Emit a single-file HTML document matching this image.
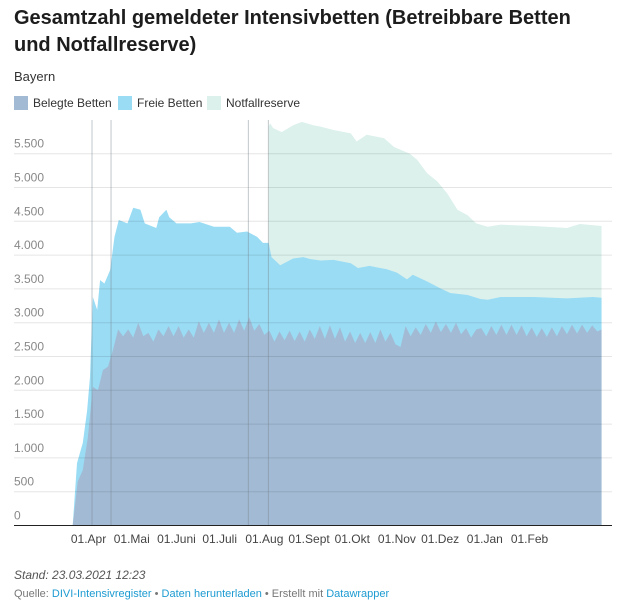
<!DOCTYPE html>
<html><head><meta charset="utf-8">
<style>
body{margin:0;background:#fff;font-family:"Liberation Sans",sans-serif;width:622px;height:606px;overflow:hidden;position:relative}
.t{position:absolute;left:14px;top:5px;font-size:20px;font-weight:bold;color:#1d1d1d;line-height:27px;width:610px;white-space:nowrap}
.sub{position:absolute;left:14px;top:69px;font-size:13px;color:#333}
.leg{position:absolute;top:96px;font-size:12px;color:#333;display:flex;align-items:center}
.leg span{display:inline-block;width:14px;height:14px;margin-right:5px}
.f1{position:absolute;left:14px;top:568px;font-size:12px;font-style:italic;color:#555}
.f2{position:absolute;left:14px;top:588px;font-size:11px;color:#777}
.f2 a{color:#1d9bd1;text-decoration:none}
svg{position:absolute;left:0;top:0}
</style></head><body>
<div class="t">Gesamtzahl gemeldeter Intensivbetten (Betreibbare Betten<br>und Notfallreserve)</div>
<div class="sub">Bayern</div>
<div class="leg" style="left:14px"><span style="background:#a2bad4"></span>Belegte Betten</div>
<div class="leg" style="left:118px"><span style="background:#9adcf4"></span>Freie Betten</div>
<div class="leg" style="left:207px"><span style="background:#dcf1ec"></span>Notfallreserve</div>
<svg id="chart" width="622" height="606"></svg>
<div class="f1">Stand: 23.03.2021 12:23</div>
<div class="f2">Quelle: <a>DIVI-Intensivregister</a> • <a>Daten herunterladen</a> • Erstellt mit <a>Datawrapper</a></div>
<script>
// days since 21.03.2020
const yTicks=[0,500,1000,1500,2000,2500,3000,3500,4000,4500,5000,5500];
const yTickLabels=["0","500","1.000","1.500","2.000","2.500","3.000","3.500","4.000","4.500","5.000","5.500"];
const xTickDays=[11,41,72,102,133,164,194,225,255,286,317];
const xTickLabels=["01.Apr","01.Mai","01.Juni","01.Juli","01.Aug","01.Sept","01.Okt","01.Nov","01.Dez","01.Jan","01.Feb"];
const eventDays=[13.4,26.6,121.9,135.8];
const belegt=[0,650,820,1300,2050,2000,2300,2350,2600,2900,2800,2900,2780,3000,2800,2850,2720,2900,2800,2950,2800,2950,2780,2900,2780,3020,2850,3000,2850,3050,2850,3000,2850,3050,2880,3080,2880,2980,2820,2880,2720,2870,2740,2880,2730,2870,2720,2900,2760,2950,2760,2960,2760,2930,2720,2870,2700,2850,2700,2860,2700,2900,2720,2850,2680,2640,2950,2800,2930,2820,2980,2850,3020,2860,2980,2850,3000,2830,2920,2780,2900,2920,2800,2950,2820,2970,2820,2970,2820,2960,2800,2930,2790,2920,2790,2930,2800,2950,2830,2970,2840,2970,2850,2960,2870,2900];
const freiDays=[0,3,7,10,12,14,17,19,22,26,29,32,38,42,47,50,58,60,65,67,72,82,88,98,109,114,121,128,132,136,138,144,153,160,165,172,181,193,198,206,218,225,232,236,246,255,262,274,283,288,297,320,343,361,367];
const freiTotal=[0,925,1220,1700,2200,3380,3190,3630,3580,3780,4270,4520,4470,4700,4670,4470,4400,4560,4670,4560,4470,4470,4490,4420,4420,4330,4350,4270,4180,4180,3970,3850,3950,3970,3940,3920,3930,3880,3810,3840,3790,3740,3640,3710,3610,3510,3440,3410,3350,3340,3380,3380,3360,3380,3370];
const notDays=[136,137,139,145,153,159,167,172,181,193,197,204,216,223,234,239,246,253,260,267,274,280,288,297,320,343,352,367];
const notTotal=[5900,5950,5880,5820,5920,5970,5920,5900,5850,5800,5680,5780,5730,5600,5500,5410,5210,5090,4910,4670,4590,4470,4420,4450,4430,4400,4460,4430];

const NS="http://www.w3.org/2000/svg",svg=document.getElementById('chart');
const X=d=>72.7+d*1.441, Y=v=>525.5-v*0.0676;
function mk(t,a){const e=document.createElementNS(NS,t);for(const k in a)e.setAttribute(k,a[k]);svg.appendChild(e);return e;}
const belegtDays=belegt.map((_,i)=>Math.min(i*3.5,367));
function area(days,vals){let p='M'+X(days[0])+','+Y(0);days.forEach((d,i)=>p+=' L'+X(d)+','+Y(vals[i]));p+=' L'+X(days[days.length-1])+','+Y(0)+'Z';return p;}
let a=mk('path',{d:area(notDays,notTotal),fill:'#dcf1ec'});


a=mk('path',{d:area(freiDays,freiTotal),fill:'#9adcf4'});


a=mk('path',{d:area(belegtDays,belegt),fill:'#a2bad4'});


yTicks.forEach((v,i)=>{
 const l=mk('line',{x1:14,x2:612,y1:Y(v),y2:Y(v),stroke:'rgba(0,0,0,0.1)','stroke-width':1});
 
 
 const t=mk('text',{x:14,y:Y(v)-6,'font-size':12,fill:'#888','font-family':'Liberation Sans, sans-serif'});
 t.textContent=yTickLabels[i];
 
 
});
eventDays.forEach(d=>{
 const l=mk('line',{x1:X(d),x2:X(d),y1:120,y2:525,stroke:'rgba(120,130,140,0.45)','stroke-width':1});
 
 
});
const ax=mk('line',{x1:14,x2:612,y1:525.5,y2:525.5,stroke:'#222','stroke-width':1});


xTickDays.forEach((d,i)=>{
 const t=mk('text',{x:X(d),y:543,'font-size':12,fill:'#444','text-anchor':'middle','font-family':'Liberation Sans, sans-serif'});
 t.textContent=xTickLabels[i];
 
 
});
</script>
</body></html>
